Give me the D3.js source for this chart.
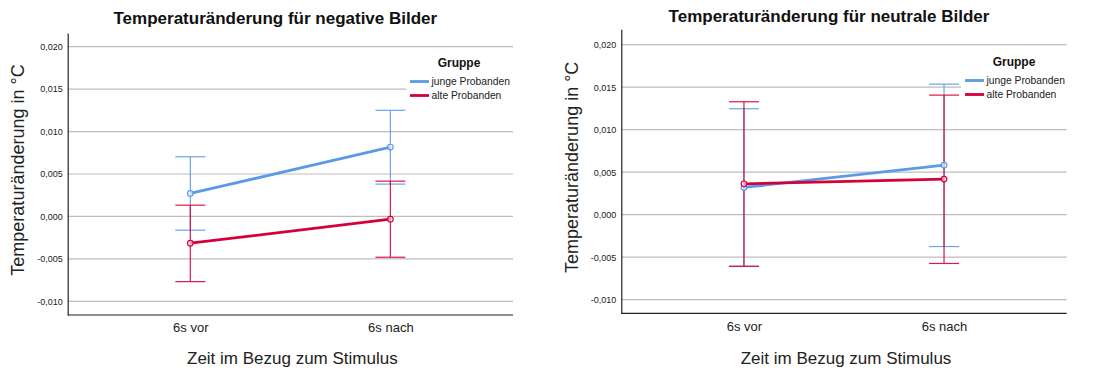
<!DOCTYPE html>
<html><head><meta charset="utf-8">
<script src="https://cdn.jsdelivr.net/npm/d3@7"></script>
<style>
html,body{margin:0;padding:0;background:#fff;}
svg{display:block;font-family:"Liberation Sans",Arial,sans-serif;}
</style></head>
<body>
<svg id="chart" width="1101" height="372"></svg>
<script>
// ---- data ----
const categories = ["6s vor", "6s nach"];
const groups = ["junge Probanden", "alte Probanden"];
const groupColors = ["#5b9be6", "#d4003b"];
const yTicks = [-0.010, -0.005, 0.000, 0.005, 0.010, 0.015, 0.020];
const titles = ["Temperaturänderung für negative Bilder", "Temperaturänderung für neutrale Bilder"];
const yLabel = "Temperaturänderung in °C";
const xLabel = "Zeit im Bezug zum Stimulus";
const legendTitle = "Gruppe";

// negative images
const negJungeMean = [0.00271, 0.00817];
const negJungeLow  = [-0.00162, 0.00381];
const negJungeHigh = [0.00703, 0.01250];
const negAlteMean  = [-0.00315, -0.00032];
const negAlteLow   = [-0.00767, -0.00480];
const negAlteHigh  = [0.00133, 0.00416];
// neutral images
const neuJungeMean = [0.00320, 0.00582];
const neuJungeLow  = [-0.00606, -0.00375];
const neuJungeHigh = [0.01246, 0.01535];
const neuAlteMean  = [0.00363, 0.00418];
const neuAlteLow   = [-0.00608, -0.00574];
const neuAlteHigh  = [0.01328, 0.01406];

const panels = [
  {title: titles[0], left: 67.7, right: 513, top: 33, bottom: 315, titleY: 24, yDomain:[-0.0116, 0.0216],
   ylabX: 18, legX: 410, legTop: 63,
   series: [
     {mean: negJungeMean, low: negJungeLow, high: negJungeHigh},
     {mean: negAlteMean, low: negAlteLow, high: negAlteHigh}]},
  {title: titles[1], left: 621.3, right: 1066.7, top: 29.3, bottom: 313.3, titleY: 21.5, yDomain:[-0.0116, 0.0218],
   ylabX: 572, legX: 965, legTop: 62,
   series: [
     {mean: neuJungeMean, low: neuJungeLow, high: neuJungeHigh},
     {mean: neuAlteMean, low: neuAlteLow, high: neuAlteHigh}]}
];

const svg = d3.select("#chart");
const fmt = v => d3.format(".3f")(v).replace("\u2212", "-").replace(".", ",");

panels.forEach(p => {
  const g = svg.append("g");
  const x = d3.scalePoint().domain(categories).range([p.left, p.right]).padding(0.613);
  const y = d3.scaleLinear().domain(p.yDomain).range([p.bottom, p.top]);

  // gridlines
  g.append("g").selectAll("line").data(yTicks).join("line")
    .attr("x1", p.left).attr("x2", p.right)
    .attr("y1", d => y(d)).attr("y2", d => y(d))
    .attr("stroke", "#bdbdbd").attr("stroke-width", 1.2);

  // y axis
  const ya = d3.axisLeft(y).tickValues(yTicks).tickSize(0).tickPadding(5).tickFormat(fmt);
  const yg = g.append("g").attr("transform", `translate(${p.left},0)`).call(ya);
  yg.select(".domain").attr("stroke", "#222").attr("stroke-width", 1.2);
  yg.selectAll("text").attr("font-size", 9).attr("fill", "#222")
    .attr("font-family", "'Liberation Sans',Arial,sans-serif");

  // x axis
  const xa = d3.axisBottom(x).tickSize(0).tickPadding(8);
  const xg = g.append("g").attr("transform", `translate(0,${p.bottom})`).call(xa);
  xg.select(".domain").attr("stroke", "#222").attr("stroke-width", 1.2)
    .attr("d", `M${p.left},0H${p.right}`);
  xg.selectAll("text").attr("font-size", 13).attr("fill", "#222")
    .attr("font-family", "'Liberation Sans',Arial,sans-serif");

  // title
  g.append("text").attr("x", (p.left + p.right) / 2 - 15).attr("y", p.titleY)
    .attr("text-anchor", "middle").attr("font-size", 17).attr("font-weight", "bold")
    .attr("fill", "#111").text(p.title);

  // axis labels
  g.append("text").attr("transform", `translate(${p.ylabX + 6},${(p.top + p.bottom) / 2 - 4}) rotate(-90)`)
    .attr("text-anchor", "middle").attr("font-size", 18).attr("fill", "#222").text(yLabel);
  g.append("text").attr("x", (p.left + p.right) / 2 + 2).attr("y", 364)
    .attr("text-anchor", "middle").attr("font-size", 17).attr("fill", "#222").text(xLabel);

  // error bars
  p.series.forEach((s, si) => {
    const col = groupColors[si];
    const eg = g.append("g").attr("stroke", col).attr("stroke-width", 1.2).attr("opacity", 0.9);
    categories.forEach((c, i) => {
      const cx = x(c);
      eg.append("line").attr("x1", cx).attr("x2", cx).attr("y1", y(s.low[i])).attr("y2", y(s.high[i]));
      eg.append("line").attr("x1", cx - 15).attr("x2", cx + 15).attr("y1", y(s.low[i])).attr("y2", y(s.low[i]));
      eg.append("line").attr("x1", cx - 15).attr("x2", cx + 15).attr("y1", y(s.high[i])).attr("y2", y(s.high[i]));
    });
  });
  // lines and markers
  p.series.forEach((s, si) => {
    const col = groupColors[si];
    const line = d3.line().x((d, i) => x(categories[i])).y(d => y(d));
    g.append("path").datum(s.mean).attr("d", line).attr("fill", "none")
      .attr("stroke", col).attr("stroke-width", 2.8);
    g.append("g").selectAll("circle").data(s.mean).join("circle")
      .attr("cx", (d, i) => x(categories[i])).attr("cy", d => y(d)).attr("r", 2.8)
      .attr("fill", "#fff").attr("fill-opacity", 0.6).attr("stroke", col).attr("stroke-width", 1.2);
  });

  // legend
  const lg = g.append("g");
  lg.append("rect").attr("x", p.legX - 4).attr("y", p.legTop + 8).attr("width", p.right - p.legX + 4)
    .attr("height", 30).attr("fill", "#fff");
  lg.append("text").attr("x", p.legX + 49).attr("y", p.legTop + 4).attr("text-anchor", "middle")
    .attr("font-size", 12).attr("font-weight", "bold").attr("fill", "#111").text(legendTitle);
  groups.forEach((gr, gi) => {
    const ly = p.legTop + 18.5 + gi * 14;
    lg.append("line").attr("x1", p.legX).attr("x2", p.legX + 19).attr("y1", ly).attr("y2", ly)
      .attr("stroke", groupColors[gi]).attr("stroke-width", 2.8);
    lg.append("text").attr("x", p.legX + 21.5).attr("y", ly + 3.5).attr("font-size", 10.3)
      .attr("fill", "#222").text(gr);
  });
});
</script>
</body></html>
